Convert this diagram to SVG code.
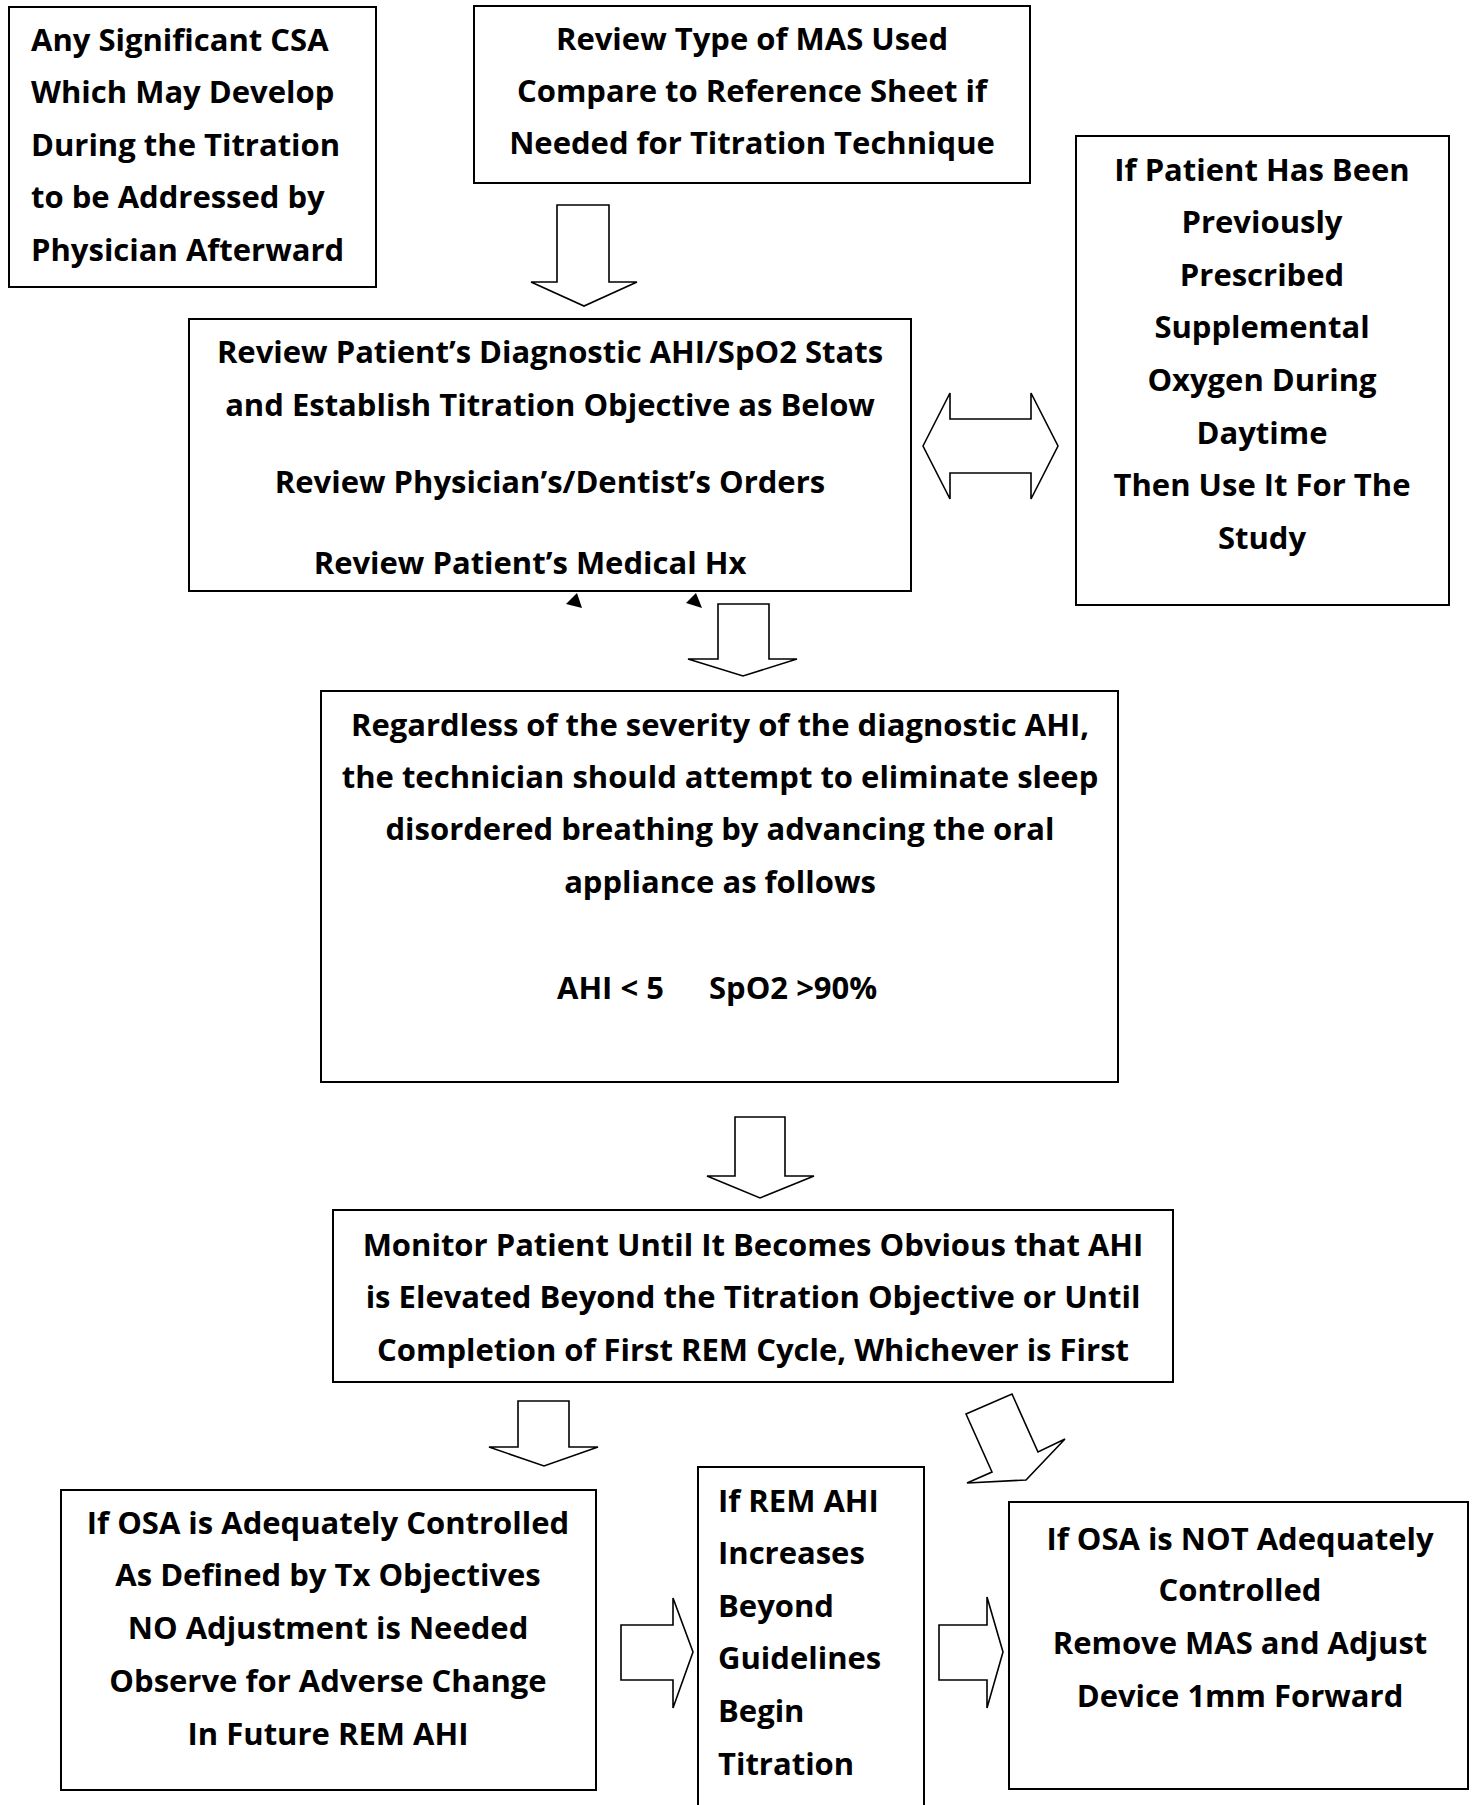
<svg xmlns="http://www.w3.org/2000/svg" width="1476" height="1805" viewBox="0 0 1476 1805">
<style>
.box{fill:#fff;stroke:#000;stroke-width:2}
.arr{fill:#fff;stroke:#000;stroke-width:1.6;stroke-linejoin:miter}
.tri{fill:#000;stroke:none}
text{font-family:"Open Sans",Lato,"Liberation Sans",sans-serif;font-weight:bold;font-size:31px;fill:#000}
.c{text-anchor:middle}
</style>
<rect width="1476" height="1805" fill="#fff"/>
<g id="connectors">
<polygon class="arr" points="557,205 609,205 609,282 637,282 584,306 531,282 557,282"/>
<polygon class="arr" points="923,446 950,393 950,419 1031,419 1031,393 1058,446 1031,499 1031,473 950,473 950,499"/>
<polygon class="arr" points="718,604 769,604 769,659 797,659 743,676 688,659 718,659"/>
<polygon class="arr" points="735,1117 785,1117 785,1176 814,1176 760,1198 707,1176 735,1176"/>
<polygon class="arr" points="518,1401 569,1401 569,1447 598,1447 544,1466 489,1447 518,1447"/>
<polygon class="arr" points="966,1414 1012,1394 1038,1452 1065,1439 1026,1480 967,1483 992,1472"/>
<polygon class="arr" points="621,1625 673,1625 673,1598 693,1652 673,1708 673,1680 621,1680"/>
<polygon class="arr" points="939,1625 987,1625 987,1597 1003,1652 987,1708 987,1680 939,1680"/>
<polygon class="tri" points="828,432 837,421 843,436"/>
<polygon class="tri" points="566,604 577,593 582,608"/>
<polygon class="tri" points="686,603 696,593 702,608"/>
</g>
<g id="node-csa">
<rect class="box" x="9" y="7" width="367" height="280"/>
<text x="31" y="51">Any Significant CSA</text>
<text x="31" y="103">Which May Develop</text>
<text x="31" y="156">During the Titration</text>
<text x="31" y="208">to be Addressed by</text>
<text x="31" y="261">Physician Afterward</text>
</g>
<g id="node-mas">
<rect class="box" x="474" y="6" width="556" height="177"/>
<text class="c" x="752" y="50">Review Type of MAS Used</text>
<text class="c" x="752" y="102">Compare to Reference Sheet if</text>
<text class="c" x="752" y="154">Needed for Titration Technique</text>
</g>
<g id="node-review">
<rect class="box" x="189" y="319" width="722" height="272"/>
<text class="c" x="550" y="363">Review Patient’s Diagnostic AHI/SpO2 Stats</text>
<text class="c" x="550" y="416">and Establish Titration Objective as Below</text>
<text class="c" x="550" y="493">Review Physician’s/Dentist’s Orders</text>
<text class="c" x="530" y="574">Review Patient’s Medical Hx</text>
</g>
<g id="node-oxygen">
<rect class="box" x="1076" y="136" width="373" height="469"/>
<text class="c" x="1262" y="181">If Patient Has Been</text>
<text class="c" x="1262" y="233">Previously</text>
<text class="c" x="1262" y="286">Prescribed</text>
<text class="c" x="1262" y="338">Supplemental</text>
<text class="c" x="1262" y="391">Oxygen During</text>
<text class="c" x="1262" y="444">Daytime</text>
<text class="c" x="1262" y="496">Then Use It For The</text>
<text class="c" x="1262" y="549">Study</text>
</g>
<g id="node-objective">
<rect class="box" x="321" y="691" width="797" height="391"/>
<text class="c" x="720" y="736">Regardless of the severity of the diagnostic AHI,</text>
<text class="c" x="720" y="788">the technician should attempt to eliminate sleep</text>
<text class="c" x="720" y="840">disordered breathing by advancing the oral</text>
<text class="c" x="720" y="893">appliance as follows</text>
<text y="999"><tspan x="557">AHI &lt; 5</tspan><tspan x="709">SpO2 &gt;90%</tspan></text>
</g>
<g id="node-monitor">
<rect class="box" x="333" y="1210" width="840" height="172"/>
<text class="c" x="753" y="1256">Monitor Patient Until It Becomes Obvious that AHI</text>
<text class="c" x="753" y="1308">is Elevated Beyond the Titration Objective or Until</text>
<text class="c" x="753" y="1361">Completion of First REM Cycle, Whichever is First</text>
</g>
<g id="node-controlled">
<rect class="box" x="61" y="1490" width="535" height="300"/>
<text class="c" x="328" y="1534">If OSA is Adequately Controlled</text>
<text class="c" x="328" y="1586">As Defined by Tx Objectives</text>
<text class="c" x="328" y="1639">NO Adjustment is Needed</text>
<text class="c" x="328" y="1692">Observe for Adverse Change</text>
<text class="c" x="328" y="1745">In Future REM AHI</text>
</g>
<g id="node-rem">
<path class="box" d="M698,1810 V1467 H924 V1810"/>
<text x="718" y="1512">If REM AHI</text>
<text x="718" y="1564">Increases</text>
<text x="718" y="1617">Beyond</text>
<text x="718" y="1669">Guidelines</text>
<text x="718" y="1722">Begin</text>
<text x="718" y="1775">Titration</text>
</g>
<g id="node-not-controlled">
<rect class="box" x="1009" y="1502" width="459" height="287"/>
<text class="c" x="1240" y="1550">If OSA is NOT Adequately</text>
<text class="c" x="1240" y="1601">Controlled</text>
<text class="c" x="1240" y="1654">Remove MAS and Adjust</text>
<text class="c" x="1240" y="1707">Device 1mm Forward</text>
</g>
</svg>
